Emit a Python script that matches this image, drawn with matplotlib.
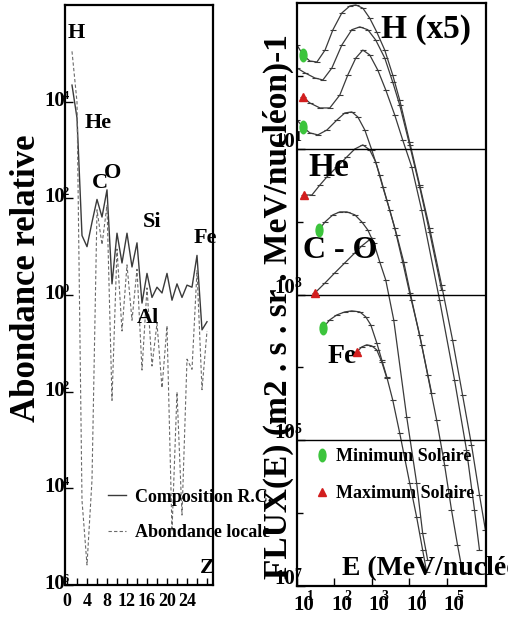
import numpy as np
import matplotlib
matplotlib.use("Agg")
import matplotlib.pyplot as plt
from matplotlib.lines import Line2D
from matplotlib.markers import MarkerStyle
from matplotlib.transforms import Affine2D
from matplotlib.ticker import NullFormatter

plt.rcParams['font.family'] = ['Liberation Serif', 'DejaVu Serif']
plt.rcParams['font.weight'] = 'bold'

# ---------------- left panel : abondance relative vs Z ----------------
z = np.arange(1, 29)
cr_abund = [2.2e4, 4.6e3, 17, 10, 32, 95, 41, 150, 1.7, 19,
            4.6, 19, 3.8, 12, 0.68, 2.8, 0.89, 1.45, 1.1, 2.8,
            0.78, 1.7, 0.89, 1.6, 1.45, 6.6, 0.19, 0.28]
local_abund = [1.1e5, 9.8e3, 5.6e-5, 2.6e-6, 1.5e-4, 58, 11, 72, 6.6e-3, 8.9,
               0.18, 4.2, 0.30, 3.4, 0.028, 1.4, 0.034, 0.26, 0.012, 0.23,
               1.3e-5, 9.8e-3, 2.8e-5, 0.047, 0.029, 3.2, 0.011, 0.18]
left_yticks = [1e4, 1e2, 1e0, 1e-2, 1e-4, 1e-6]
left_yexp = ['4', '2', '0', '2', '4', '6']
left_xticks = [0, 4, 8, 12, 16, 20, 24]

# ---------------- right panel : flux vs energie ----------------
h1_e = [10, 14.4, 22, 34, 56, 91, 157, 257, 371, 570, 870, 1340, 2190, 3570,
        5480, 1.01e4, 1.87e4, 3.44e4, 7.18e4, 1.41e5, 2.6e5, 4.51e5, 7.36e5, 1.06e6]
h1_f = [2.65, 1.94, 1.60, 1.55, 2.26, 4.3, 7.3, 9.1, 9.4, 8.5, 6.2, 4.0, 2.26, 1.03,
        0.467, 0.124, 0.0319, 0.0082, 0.00135, 2.38e-4, 4.2e-5, 8.65e-6, 1.78e-6, 5.9e-7]
h2_e = [10, 16.3, 30, 49, 85, 157, 290, 474, 773, 1260, 2190, 3570, 5480,
        1.01e4, 1.87e4, 3.44e4, 7.18e4]
h2_f = [1.28, 1.10, 0.935, 0.879, 1.28, 2.65, 4.3, 4.7, 4.3, 3.1, 1.76, 0.824, 0.399,
        0.113, 0.0299, 0.00723, 0.00116]
h3_e = [14.4, 22, 41, 75, 139, 227, 371, 570, 870, 1430, 2330, 4040, 6590,
        1.15e4, 2.11e4, 6.35e4, 1.59e5, 3.32e5, 5.42e5, 7.36e5]
h3_f = [0.514, 0.425, 0.363, 0.363, 0.547, 1.03, 1.76, 2.26, 1.94, 1.20, 0.641, 0.291,
        0.132, 0.0563, 0.0145, 8.43e-4, 6.74e-5, 7.38e-6, 1.11e-6, 3.14e-7]
he1_e = [10, 14.4, 22, 36, 63, 116, 189, 290, 419, 644, 988, 1610, 2480, 4040,
         6590, 1.01e4, 1.87e4, 3.05e4, 5.29e4, 8.63e4, 1.32e5, 1.91e5, 2.6e5]
he1_f = [0.248, 0.199, 0.165, 0.155, 0.181, 0.248, 0.310, 0.320, 0.273, 0.181, 0.0963,
         0.0437, 0.0199, 0.0082, 0.0028, 0.00105, 2.79e-4, 7.89e-5, 1.91e-5, 4.6e-6,
         1.11e-6, 3.67e-7, 1.57e-7]
he2_e = [15.4, 25, 41, 63, 116, 214, 349, 570, 870, 1260, 1940, 2970, 4570, 7020,
         1.15e4, 2.11e4, 3.89e4]
he2_f = [0.0232, 0.0232, 0.0319, 0.0411, 0.0563, 0.0773, 0.0993, 0.113, 0.0963, 0.0659,
         0.0299, 0.0145, 0.00657, 0.0028, 8.43e-4, 2.04e-4, 4.47e-5]
co1_e = [38.5, 56, 91, 139, 214, 349, 536, 773, 1120, 1610, 2330, 3800, 8430,
         1.55e4, 2.24e4, 3.05e4]
co1_f = [0.00769, 0.00991, 0.0124, 0.0136, 0.0136, 0.0124, 0.00991, 0.00769, 0.0051,
         0.0028, 0.00158, 4.49e-4, 2.09e-5, 2.61e-6, 5.37e-7, 2.29e-7]
co2_e = [30, 56, 102, 189, 349, 536, 988]
co2_f = [0.00105, 0.00144, 0.00198, 0.00272, 0.00372, 0.00464, 0.00598]
fe1_e = [49, 75, 116, 189, 290, 474, 684, 929, 1340, 1820, 2480, 3570, 5480,
         1.01e4, 1.55e4, 2.24e4, 2.86e4]
fe1_f = [3.48e-4, 4.49e-4, 5.25e-4, 5.77e-4, 5.96e-4, 5.77e-4, 4.93e-4, 3.83e-4,
         2.17e-4, 1.27e-4, 7.41e-5, 3.58e-5, 1.26e-5, 2.61e-6, 8.89e-7, 3.14e-7, 1.57e-7]
fe2_e = [394, 536, 728, 988, 1340, 1820, 2480]
fe2_f = [1.63e-4, 1.91e-4, 2.04e-4, 1.97e-4, 1.74e-4, 1.19e-4, 7.18e-5]

right_yticks = [1e-1, 1e-3, 1e-5, 1e-7]
right_yexp = ['1', '3', '5', '7']
right_xticks = [1e1, 1e2, 1e3, 1e4, 1e5]
right_xexp = ['1', '2', '3', '4', '5']

GREEN = '#3cc43c'
RED = '#d21e1e'
LINE = '#3a3a3a'
ellipse = MarkerStyle('o', transform=Affine2D().scale(0.55, 1.0))

# (energies, flux, marker, index of the marked point)
curves = [
    (h1_e, h1_f, 'min', 1), (h2_e, h2_f, None, 0), (h3_e, h3_f, 'max', 0),
    (he1_e, he1_f, 'min', 1), (he2_e, he2_f, 'max', 0),
    (co1_e, co1_f, 'min', 0), (co2_e, co2_f, 'max', 0),
    (fe1_e, fe1_f, 'min', 0), (fe2_e, fe2_f, 'max', 0),
]


def power_labels(ax, axis, vals, exps, base_off, exp_off, size, exp_size, ha):
    """Draw '10' labels with their exponent overlapping, like the scan."""
    for v, e in zip(vals, exps):
        if axis == 'y':
            xy, trans = (0, v), ax.get_yaxis_transform()
        else:
            xy, trans = (v, 0), ax.get_xaxis_transform()
        ax.annotate('10', xy=xy, xycoords=trans, xytext=base_off,
                    textcoords='offset points', ha=ha, va='center',
                    fontsize=size, annotation_clip=False)
        ax.annotate(e, xy=xy, xycoords=trans, xytext=exp_off,
                    textcoords='offset points', ha='center', va='center',
                    fontsize=exp_size, annotation_clip=False)


fig = plt.figure(figsize=(5.08, 6.19), dpi=100)

# ---- left axes
ax1 = fig.add_axes([65 / 508, 34 / 619, 148 / 508, 580 / 619])
l1, = ax1.plot(z, cr_abund, '-', color=LINE, lw=1.0)
l2, = ax1.plot(z, local_abund, color='#6a6a6a', lw=0.8, ls=(0, (3, 2)))
ax1.set_yscale('log')
ax1.set_ylim(1e-6, 1e6)
ax1.set_xlim(-0.4, 29.2)
ax1.set_yticks(left_yticks)
ax1.set_yticks([], minor=True)
ax1.yaxis.set_major_formatter(NullFormatter())
ax1.set_xticks(left_xticks)
ax1.set_xticks(np.arange(0, 29, 2), minor=True)
ax1.set_xticklabels([str(t) for t in left_xticks], fontsize=13)
ax1.tick_params(which='both', direction='in', width=1)
ax1.tick_params(axis='y', length=6)
ax1.tick_params(axis='x', which='both', length=5, pad=6)
for s in ax1.spines.values():
    s.set_linewidth(1.6)
power_labels(ax1, 'y', left_yticks, left_yexp, (0, 0.7), (0.4, 4.3), 15, 9, 'right')

# element names
for name, x, y in [('H', 0.074, 0.952), ('He', 0.223, 0.797), ('C', 0.236, 0.693),
                   ('O', 0.324, 0.710), ('Si', 0.588, 0.626), ('Fe', 0.945, 0.598),
                   ('Al', 0.561, 0.460)]:
    ax1.text(x, y, name, transform=ax1.transAxes, ha='center', va='center',
             fontsize=16, clip_on=False)
ax1.text(0.959, 0.03, 'Z', transform=ax1.transAxes, ha='center', va='center',
         fontsize=16)

ax1.legend([l1, l2], ['Composition R.C.', 'Abondance locale'], frameon=False,
           loc='center left', bbox_to_anchor=(0.29, 0.121), borderaxespad=0,
           borderpad=0, handlelength=1.0, handletextpad=0.5, labelspacing=1.0,
           prop={'size': 13, 'weight': 'bold'})

fig.text(27 / 508, 1 - 278 / 619, 'Abondance relative', rotation=90,
         ha='center', va='center', fontsize=25)

# ---- right axes
ax2 = fig.add_axes([297 / 508, 33 / 619, 189 / 508, 583 / 619])
for e, f, kind, idx in curves:
    ax2.plot(e, f, '-', color=LINE, lw=0.9, marker='_', ms=5, mew=0.8)
    if kind == 'min':
        ax2.plot(e[idx], f[idx], ls='none', marker=ellipse, ms=9, color=GREEN, zorder=5)
    elif kind == 'max':
        ax2.plot(e[idx], f[idx], ls='none', marker='^', ms=6, color=RED, zorder=5)

ax2.set_xscale('log')
ax2.set_yscale('log')
ax2.set_xlim(10, 1.1e6)
ax2.set_ylim(1e-7, 1e1)
for v in right_yticks[:-1]:
    ax2.axhline(v, color='black', lw=1.0)
ax2.set_yticks(right_yticks)
ax2.set_yticks([1e0, 1e-2, 1e-4, 1e-6], minor=True)
ax2.set_xticks(right_xticks)
ax2.set_xticks([], minor=True)
ax2.xaxis.set_major_formatter(NullFormatter())
ax2.yaxis.set_major_formatter(NullFormatter())
ax2.yaxis.set_minor_formatter(NullFormatter())
ax2.tick_params(which='both', direction='in', width=1)
ax2.tick_params(which='major', length=6)
ax2.tick_params(which='minor', length=4)
for s in ax2.spines.values():
    s.set_linewidth(1.6)
power_labels(ax2, 'y', right_yticks, right_yexp, (-1.4, 5), (0.7, 8), 15, 10, 'right')
power_labels(ax2, 'x', right_xticks, right_xexp, (5, -13.7), (9.4, -7.9), 15, 10, 'center')

ax2.text(0.683, 0.954, 'H (x5)', transform=ax2.transAxes, ha='center', va='center', fontsize=24)
ax2.text(0.169, 0.717, 'He', transform=ax2.transAxes, ha='center', va='center', fontsize=24)
ax2.text(0.228, 0.576, 'C - O', transform=ax2.transAxes, ha='center', va='center', fontsize=23)
ax2.text(0.238, 0.393, 'Fe', transform=ax2.transAxes, ha='center', va='center', fontsize=20)
ax2.text(0.238, 0.030, 'E (MeV/nucléon)', transform=ax2.transAxes, ha='left',
         va='center', fontsize=20, clip_on=False)

h_min = Line2D([], [], ls='none', marker=ellipse, ms=9, color=GREEN)
h_max = Line2D([], [], ls='none', marker='^', ms=6, color=RED)
ax2.legend([h_min, h_max], ['Minimum Solaire', 'Maximum Solaire'], frameon=False,
           loc='center left', bbox_to_anchor=(0.095, 0.19), borderaxespad=0,
           borderpad=0, handlelength=0.8, handletextpad=0.35, labelspacing=1.1,
           prop={'size': 13, 'weight': 'bold'})

fig.text(278 / 508, 1 - 307 / 619, 'FLUX(E) (m2 . s . sr . MeV/nucléon)-1',
         rotation=90, ha='center', va='center', fontsize=24)

plt.savefig('out.png', dpi=100)
plt.close(fig)
